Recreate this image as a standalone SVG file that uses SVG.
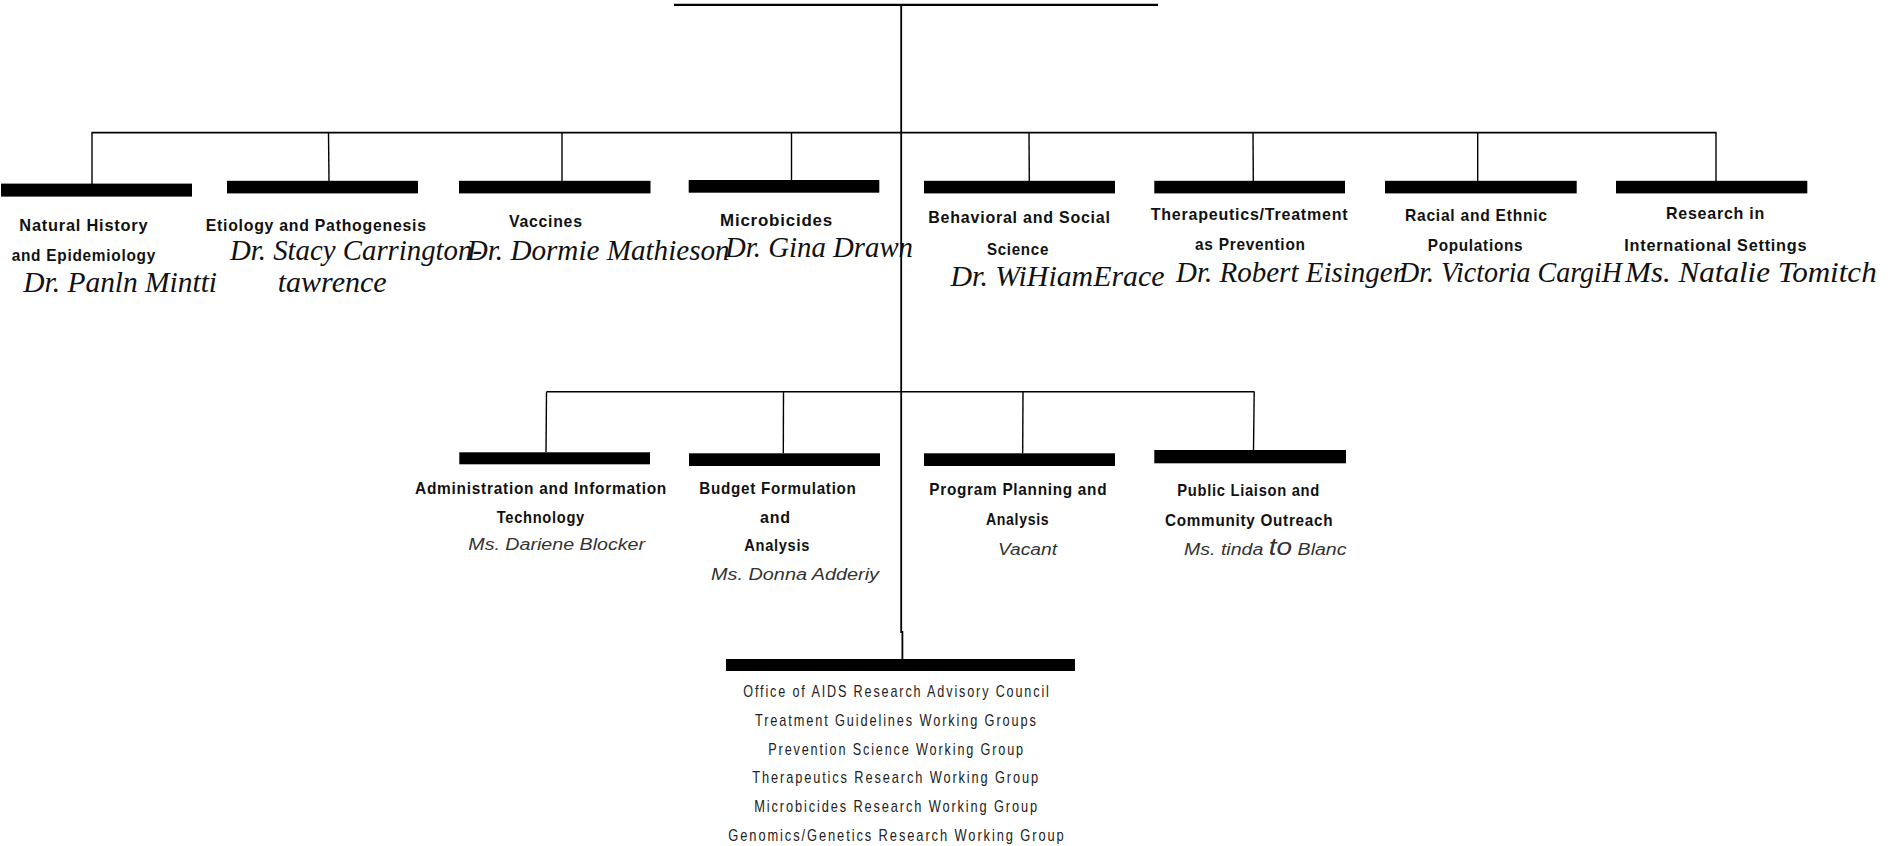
<svg xmlns="http://www.w3.org/2000/svg" width="1897" height="846" viewBox="0 0 1897 846">
<style>
.bar{fill:#000}
.ln{stroke:#000;fill:none}
.lb{font-family:"Liberation Sans",Arial,sans-serif;font-weight:bold;font-size:17px;fill:#111;letter-spacing:0.8px}
.nm{font-family:"Liberation Serif","Times New Roman",serif;font-style:italic;font-size:29px;fill:#111}
.sn{font-family:"Liberation Sans",Arial,sans-serif;font-style:italic;font-size:16px;fill:#333}
.ls{font-family:"Liberation Sans",Arial,sans-serif;font-size:17px;fill:#222;letter-spacing:2.5px}
</style>
<rect width="1897" height="846" fill="#fff"/>
<g id="connectors">
<line class="ln" x1="674" y1="4.8" x2="1158" y2="4.8" stroke-width="2.2"/>
<path class="ln" d="M901.2,5 V632 H902.4 V659" stroke-width="1.8"/>
<line class="ln" x1="91.5" y1="132.6" x2="1716.5" y2="132.6" stroke-width="1.6"/>
<line class="ln" x1="92" y1="132.6" x2="92" y2="184" stroke-width="1.4"/>
<line class="ln" x1="328.5" y1="132.6" x2="329" y2="181" stroke-width="1.4"/>
<line class="ln" x1="562" y1="132.6" x2="562" y2="181" stroke-width="1.4"/>
<line class="ln" x1="791.5" y1="132.6" x2="791.5" y2="180" stroke-width="1.4"/>
<line class="ln" x1="1029" y1="132.6" x2="1029.3" y2="181" stroke-width="1.4"/>
<line class="ln" x1="1253" y1="132.6" x2="1253.3" y2="181" stroke-width="1.4"/>
<line class="ln" x1="1477.7" y1="132.6" x2="1477.7" y2="181" stroke-width="1.4"/>
<line class="ln" x1="1716" y1="132.6" x2="1716" y2="181" stroke-width="1.4"/>
<line class="ln" x1="546.5" y1="391.8" x2="1254.5" y2="391.8" stroke-width="1.6"/>
<line class="ln" x1="546.5" y1="391.8" x2="546" y2="452.3" stroke-width="1.4"/>
<line class="ln" x1="783.5" y1="391.8" x2="783.3" y2="453.3" stroke-width="1.4"/>
<line class="ln" x1="1023" y1="391.8" x2="1022.7" y2="453.3" stroke-width="1.4"/>
<line class="ln" x1="1254.2" y1="391.8" x2="1253.5" y2="450" stroke-width="1.4"/>
</g>
<g id="n1">
<rect class="bar" x="1" y="183.6" width="191" height="13"/>
<text class="lb" x="19.3" y="230.6" textLength="129" lengthAdjust="spacingAndGlyphs">Natural History</text>
<text class="lb" x="11.7" y="260.6" textLength="144.3" lengthAdjust="spacingAndGlyphs">and Epidemiology</text>
<text class="nm" x="23.3" y="291.7" textLength="193.7" lengthAdjust="spacingAndGlyphs">Dr. Panln Mintti</text>
</g>
<g id="n2">
<rect class="bar" x="227" y="180.8" width="191" height="12.6"/>
<text class="lb" x="205.7" y="230.6" textLength="221" lengthAdjust="spacingAndGlyphs">Etiology and Pathogenesis</text>
<text class="nm" x="230" y="260" textLength="252" lengthAdjust="spacingAndGlyphs">Dr. Stacy Carrington-</text>
<text class="nm" x="277.7" y="291.7" textLength="109" lengthAdjust="spacingAndGlyphs">tawrence</text>
</g>
<g id="n3">
<rect class="bar" x="459" y="180.8" width="191.5" height="12.6"/>
<text class="lb" x="509" y="227.3" textLength="73.7" lengthAdjust="spacingAndGlyphs">Vaccines</text>
<text class="nm" x="466.7" y="260" textLength="263" lengthAdjust="spacingAndGlyphs">Dr. Dormie Mathieson</text>
</g>
<g id="n4">
<rect class="bar" x="688.7" y="180" width="190.6" height="12.7"/>
<text class="lb" x="720" y="226" textLength="113" lengthAdjust="spacingAndGlyphs">Microbicides</text>
<text class="nm" x="725" y="256.7" textLength="188" lengthAdjust="spacingAndGlyphs">Dr. Gina Drawn</text>
</g>
<g id="n5">
<rect class="bar" x="924" y="180.8" width="191" height="12.6"/>
<text class="lb" x="928.3" y="223.3" textLength="182.4" lengthAdjust="spacingAndGlyphs">Behavioral and Social</text>
<text class="lb" x="987" y="255" textLength="62" lengthAdjust="spacingAndGlyphs">Science</text>
<text class="nm" x="950.5" y="285.7" textLength="214" lengthAdjust="spacingAndGlyphs">Dr. WiHiamErace</text>
</g>
<g id="n6">
<rect class="bar" x="1154.3" y="180.8" width="190.7" height="12.6"/>
<text class="lb" x="1150.7" y="220" textLength="197.6" lengthAdjust="spacingAndGlyphs">Therapeutics/Treatment</text>
<text class="lb" x="1195" y="250" textLength="110.7" lengthAdjust="spacingAndGlyphs">as Prevention</text>
<text class="nm" x="1176" y="281.7" textLength="228" lengthAdjust="spacingAndGlyphs">Dr. Robert Eisinger</text>
</g>
<g id="n7">
<rect class="bar" x="1385" y="180.8" width="191.7" height="12.6"/>
<text class="lb" x="1405" y="220.7" textLength="142.7" lengthAdjust="spacingAndGlyphs">Racial and Ethnic</text>
<text class="lb" x="1427.7" y="250.7" textLength="95.6" lengthAdjust="spacingAndGlyphs">Populations</text>
<text class="nm" x="1399" y="281.7" textLength="223" lengthAdjust="spacingAndGlyphs">Dr. Victoria CargiH</text>
</g>
<g id="n8">
<rect class="bar" x="1616" y="180.8" width="191.3" height="12.6"/>
<text class="lb" x="1666" y="218.7" textLength="99" lengthAdjust="spacingAndGlyphs">Research in</text>
<text class="lb" x="1624.3" y="250.7" textLength="183" lengthAdjust="spacingAndGlyphs">International Settings</text>
<text class="nm" x="1625" y="281.7" textLength="251.7" lengthAdjust="spacingAndGlyphs">Ms. Natalie Tomitch</text>
</g>
<g id="m1">
<rect class="bar" x="459.3" y="452.3" width="190.7" height="12"/>
<text class="lb" x="415" y="494" textLength="252" lengthAdjust="spacingAndGlyphs">Administration and Information</text>
<text class="lb" x="496.7" y="522.5" textLength="88.3" lengthAdjust="spacingAndGlyphs">Technology</text>
<text class="sn" x="468.3" y="550" textLength="176.7" lengthAdjust="spacingAndGlyphs">Ms. Dariene Blocker</text>
</g>
<g id="m2">
<rect class="bar" x="689" y="453.3" width="191" height="12.7"/>
<text class="lb" x="699.3" y="494" textLength="157.3" lengthAdjust="spacingAndGlyphs">Budget Formulation</text>
<text class="lb" x="760" y="522.7" textLength="30.7" lengthAdjust="spacingAndGlyphs">and</text>
<text class="lb" x="744.3" y="550.7" textLength="65.7" lengthAdjust="spacingAndGlyphs">Analysis</text>
<text class="sn" x="711" y="580" textLength="168" lengthAdjust="spacingAndGlyphs">Ms. Donna Adderiy</text>
</g>
<g id="m3">
<rect class="bar" x="924" y="453.3" width="191" height="12.7"/>
<text class="lb" x="929.3" y="495" textLength="178" lengthAdjust="spacingAndGlyphs">Program Planning and</text>
<text class="lb" x="986" y="525" textLength="63.3" lengthAdjust="spacingAndGlyphs">Analysis</text>
<text class="sn" x="998" y="555" textLength="59" lengthAdjust="spacingAndGlyphs">Vacant</text>
</g>
<g id="m4">
<rect class="bar" x="1154.3" y="450" width="191.7" height="13.3"/>
<text class="lb" x="1177.3" y="496" textLength="142.7" lengthAdjust="spacingAndGlyphs">Public Liaison and</text>
<text class="lb" x="1165" y="526" textLength="168.3" lengthAdjust="spacingAndGlyphs">Community Outreach</text>
<text class="sn" x="1184" y="555" textLength="162.5" lengthAdjust="spacingAndGlyphs">Ms. tinda <tspan font-size="23">to</tspan> Blanc</text>
</g>
<g id="b1">
<rect class="bar" x="726" y="659" width="349" height="12"/>
<text class="ls" x="743.3" y="697" textLength="307.4" lengthAdjust="spacingAndGlyphs">Office of AIDS Research Advisory Council</text>
<text class="ls" x="755" y="726" textLength="282.7" lengthAdjust="spacingAndGlyphs">Treatment Guidelines Working Groups</text>
<text class="ls" x="768.3" y="754.5" textLength="256.7" lengthAdjust="spacingAndGlyphs">Prevention Science Working Group</text>
<text class="ls" x="752.3" y="783.2" textLength="287.7" lengthAdjust="spacingAndGlyphs">Therapeutics Research Working Group</text>
<text class="ls" x="754.3" y="812" textLength="284.7" lengthAdjust="spacingAndGlyphs">Microbicides Research Working Group</text>
<text class="ls" x="728.3" y="840.7" textLength="337.4" lengthAdjust="spacingAndGlyphs">Genomics/Genetics Research Working Group</text>
</g>
</svg>
